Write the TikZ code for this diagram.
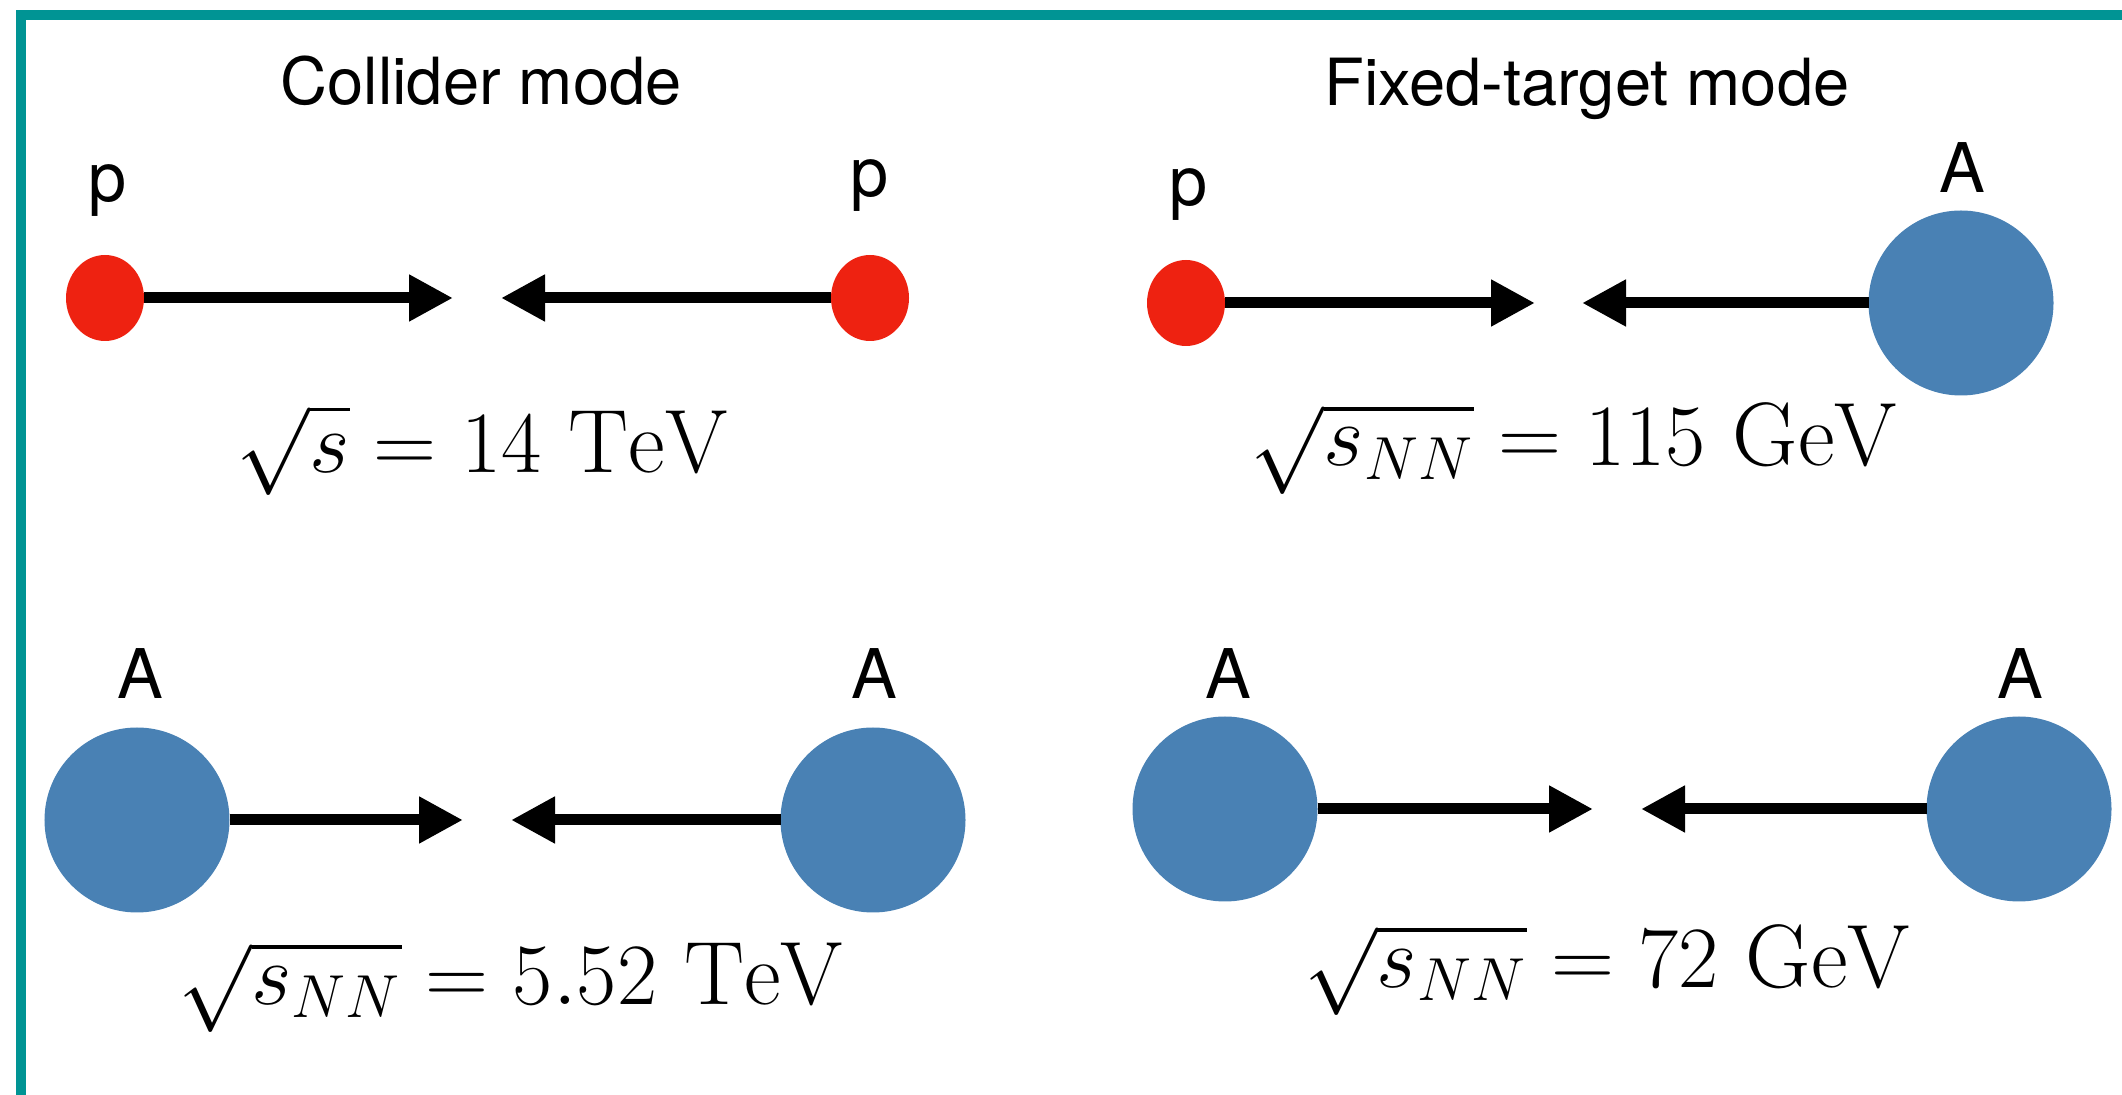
\documentclass[tikz,border=0pt]{standalone}
\usepackage{fontspec}
\setsansfont{TeX Gyre Heros}
\usepackage{tikz}
\usetikzlibrary{arrows.meta,shapes.geometric,positioning}
\definecolor{protonred}{RGB}{238,34,17}
\definecolor{ionblue}{RGB}{73,129,180}
\definecolor{frameteal}{RGB}{0,148,148}
\tikzset{
  proton/.style={ellipse,fill=protonred,minimum width=0.78cm,minimum height=0.86cm,inner sep=0pt,outer sep=0pt},
  nucleus/.style={circle,fill=ionblue,minimum size=1.85cm,inner sep=0pt,outer sep=0pt},
  beam/.style={line width=0.11cm,-{Triangle[length=0.44cm,width=0.44cm]}},
  modetitle/.style={font=\sffamily\fontsize{18.5}{22}\selectfont,anchor=base},
  partlabel/.style={font=\sffamily\fontsize{19.5}{23}\selectfont,anchor=base},
  energy/.style={font=\fontsize{25.6}{30}\selectfont,anchor=base}
}

\begin{document}
\begin{tikzpicture}

\useasboundingbox (0,0) rectangle (21.22,10.94);
\draw [frameteal, line width=0.1cm] (0.205,-0.5) -- (0.205,10.79) -- (21.6,10.79);

% collider mode, p p
\node [modetitle] (ctitle) at (4.81,9.89) {Collider mode};
\node [proton] (cpl) at (1.05,7.96) {};
\node [proton] (cpr) at (8.70,7.96) {};
\node [partlabel] (cpll) at (1.08,8.92) {p};
\node [partlabel] (cprl) at (8.70,8.97) {p};
\coordinate (cpml) at (4.53,7.96);
\coordinate (cpmr) at (5.01,7.96);
\draw [beam] (cpl) -- (cpml);
\draw [beam] (cpr) -- (cpmr);
\node [energy] (cpe) at (4.82,6.21) {$\sqrt{s} = 14\ \mathrm{TeV}$};

% fixed-target mode, p A
\node [modetitle] (ftitle) at (15.87,9.88) {Fixed-target mode};
\node [proton] (fpl) at (11.86,7.91) {};
\node [nucleus] (fpr) at (19.61,7.91) {};
\node [partlabel] (fpll) at (11.89,8.88) {p};
\node [partlabel] (fprl) at (19.62,9.01) {A};
\coordinate (fpml) at (15.35,7.91);
\coordinate (fpmr) at (15.82,7.91);
\draw [beam] (fpl) -- (fpml);
\draw [beam] (fpr) -- (fpmr);
\node [energy] (fpe) at (15.74,6.28) {$\sqrt{s_{NN}} = 115\ \mathrm{GeV}$};

% collider mode, A A
\node [nucleus] (cal) at (1.37,2.74) {};
\node [nucleus] (car) at (8.73,2.74) {};
\node [partlabel] (call) at (1.40,3.95) {A};
\node [partlabel] (carl) at (8.74,3.95) {A};
\coordinate (caml) at (4.63,2.74);
\coordinate (camr) at (5.11,2.74);
\draw [beam] (cal) -- (caml);
\draw [beam] (car) -- (camr);
\node [energy] (cae) at (5.11,0.90) {$\sqrt{s_{NN}} = 5.52\ \mathrm{TeV}$};

% fixed-target mode, A A
\node [nucleus] (fal) at (12.25,2.85) {};
\node [nucleus] (far) at (20.19,2.85) {};
\node [partlabel] (fall) at (12.28,3.95) {A};
\node [partlabel] (farl) at (20.20,3.95) {A};
\coordinate (faml) at (15.93,2.85);
\coordinate (famr) at (16.41,2.85);
\draw [beam] (fal) -- (faml);
\draw [beam] (far) -- (famr);
\node [energy] (fae) at (16.07,1.07) {$\sqrt{s_{NN}} = 72\ \mathrm{GeV}$};

\end{tikzpicture}
\end{document}
